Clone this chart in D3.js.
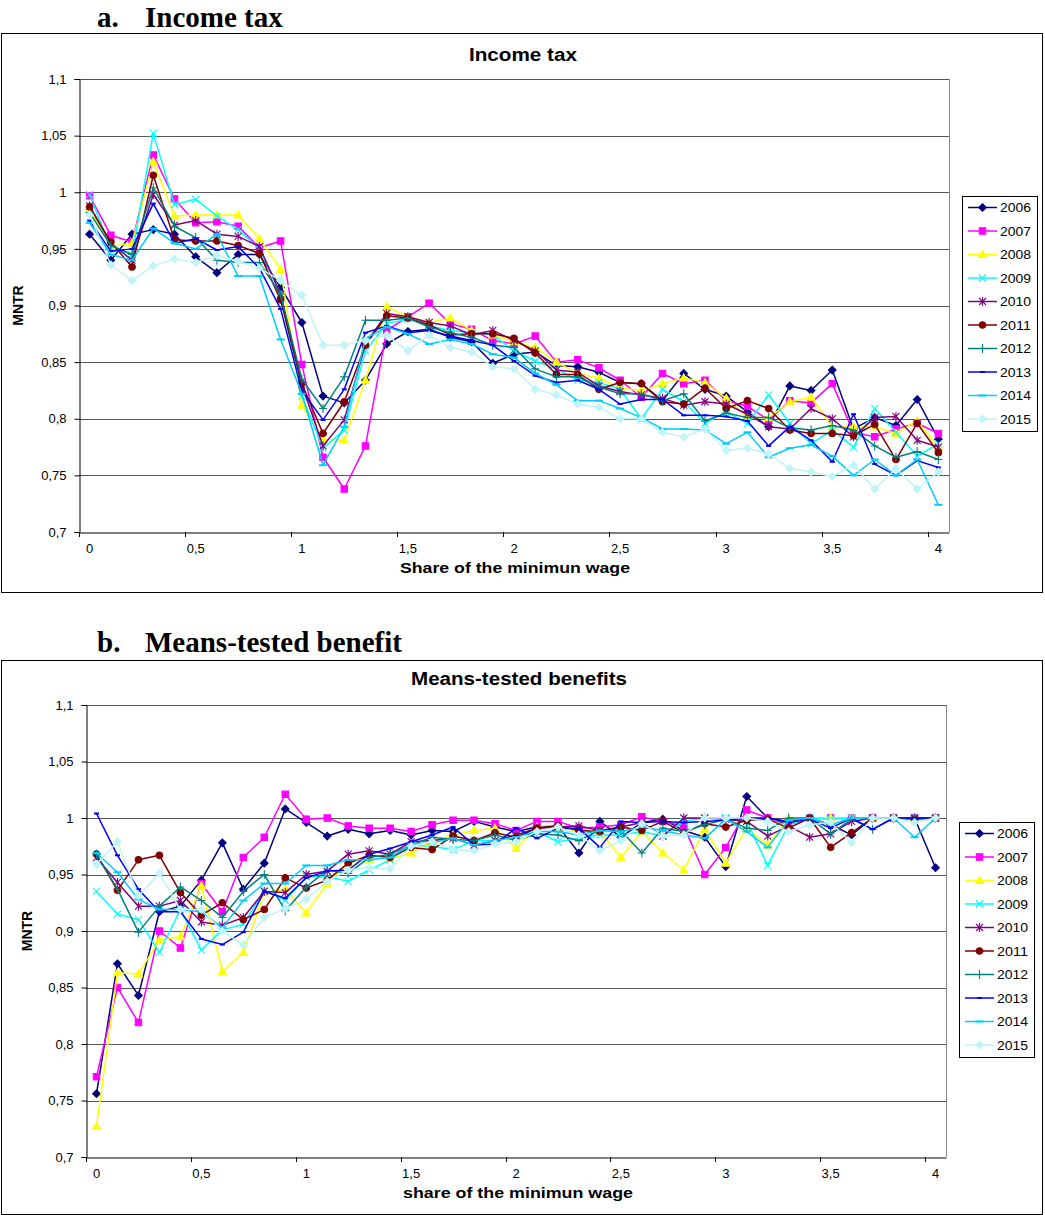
<!DOCTYPE html>
<html>
<head>
<meta charset="utf-8">
<script src="https://cdn.jsdelivr.net/npm/d3@7"></script>
<style>
  body { margin: 0; background: #fff; }
  svg { display: block; }
</style>
</head>
<body>
<svg id="chart" width="1045" height="1215"></svg>
<script>
// categories (share of the minimum wage) and ticks
var shares = [0, 0.1, 0.2, 0.3, 0.4, 0.5, 0.6, 0.7, 0.8, 0.9, 1, 1.1, 1.2, 1.3, 1.4, 1.5, 1.6, 1.7, 1.8, 1.9,
  2, 2.1, 2.2, 2.3, 2.4, 2.5, 2.6, 2.7, 2.8, 2.9, 3, 3.1, 3.2, 3.3, 3.4, 3.5, 3.6, 3.7, 3.8, 3.9, 4];
var xTickShares = [0, 0.5, 1, 1.5, 2, 2.5, 3, 3.5, 4];
var yTickValues = [0.7, 0.75, 0.8, 0.85, 0.9, 0.95, 1, 1.05, 1.1];
var years = ["2006", "2007", "2008", "2009", "2010", "2011", "2012", "2013", "2014", "2015"];

// a. Income tax
var it2006 = [0.963, 0.94, 0.963, 0.967, 0.963, 0.943, 0.929, 0.945, 0.945, 0.916, 0.885, 0.82, 0.814, 0.834, 0.866, 0.877, 0.879, 0.872, 0.868, 0.849, 0.857, 0.859, 0.847, 0.846, 0.841, 0.832, 0.831, 0.816, 0.84, 0.826, 0.82, 0.806, 0.793, 0.829, 0.825, 0.843, 0.791, 0.801, 0.794, 0.817, 0.782];
var it2007 = [0.997, 0.962, 0.956, 1.033, 0.994, 0.973, 0.974, 0.97, 0.951, 0.957, 0.848, 0.766, 0.738, 0.776, 0.878, 0.89, 0.902, 0.884, 0.879, 0.869, 0.866, 0.873, 0.85, 0.852, 0.845, 0.834, 0.819, 0.84, 0.831, 0.834, 0.816, 0.811, 0.799, 0.816, 0.814, 0.831, 0.788, 0.784, 0.791, 0.796, 0.787];
var it2008 = [0.985, 0.952, 0.955, 1.027, 0.979, 0.98, 0.98, 0.98, 0.959, 0.932, 0.812, 0.782, 0.781, 0.834, 0.899, 0.89, 0.885, 0.889, 0.878, 0.874, 0.868, 0.863, 0.85, 0.84, 0.836, 0.827, 0.825, 0.831, 0.836, 0.832, 0.818, 0.801, 0.801, 0.815, 0.819, 0.793, 0.793, 0.793, 0.787, 0.798, 0.775];
var it2009 = [0.998, 0.95, 0.945, 1.052, 0.989, 0.994, 0.979, 0.967, 0.95, 0.91, 0.82, 0.774, 0.79, 0.86, 0.884, 0.888, 0.882, 0.878, 0.876, 0.874, 0.86, 0.851, 0.844, 0.834, 0.832, 0.826, 0.8, 0.826, 0.815, 0.796, 0.806, 0.796, 0.821, 0.796, 0.778, 0.79, 0.775, 0.809, 0.788, 0.767, 0.778];
var it2010 = [0.988, 0.955, 0.94, 0.998, 0.971, 0.975, 0.963, 0.961, 0.952, 0.91, 0.83, 0.776, 0.799, 0.866, 0.893, 0.89, 0.885, 0.882, 0.874, 0.878, 0.869, 0.86, 0.843, 0.841, 0.829, 0.824, 0.821, 0.818, 0.812, 0.815, 0.813, 0.804, 0.793, 0.791, 0.809, 0.8, 0.784, 0.801, 0.802, 0.781, 0.775];
var it2011 = [0.987, 0.956, 0.934, 1.015, 0.958, 0.957, 0.957, 0.953, 0.946, 0.905, 0.831, 0.787, 0.815, 0.865, 0.891, 0.889, 0.883, 0.874, 0.875, 0.875, 0.871, 0.858, 0.839, 0.839, 0.826, 0.832, 0.831, 0.815, 0.813, 0.827, 0.809, 0.816, 0.809, 0.79, 0.787, 0.787, 0.785, 0.795, 0.764, 0.796, 0.77];
var it2012 = [0.982, 0.953, 0.945, 1.004, 0.97, 0.96, 0.94, 0.938, 0.938, 0.91, 0.835, 0.809, 0.837, 0.887, 0.887, 0.889, 0.881, 0.876, 0.872, 0.865, 0.863, 0.844, 0.837, 0.837, 0.828, 0.822, 0.822, 0.816, 0.822, 0.798, 0.805, 0.801, 0.801, 0.792, 0.79, 0.794, 0.79, 0.776, 0.766, 0.771, 0.764];
var it2013 = [0.975, 0.948, 0.95, 0.99, 0.955, 0.959, 0.949, 0.952, 0.933, 0.897, 0.825, 0.799, 0.826, 0.876, 0.882, 0.876, 0.878, 0.873, 0.869, 0.865, 0.851, 0.838, 0.832, 0.834, 0.826, 0.813, 0.817, 0.817, 0.803, 0.803, 0.802, 0.798, 0.776, 0.793, 0.781, 0.762, 0.804, 0.76, 0.75, 0.763, 0.757];
var it2014 = [0.973, 0.945, 0.94, 0.968, 0.955, 0.95, 0.963, 0.926, 0.926, 0.87, 0.822, 0.759, 0.793, 0.871, 0.881, 0.875, 0.866, 0.87, 0.866, 0.857, 0.854, 0.84, 0.83, 0.816, 0.816, 0.809, 0.801, 0.791, 0.791, 0.79, 0.778, 0.788, 0.766, 0.774, 0.777, 0.767, 0.75, 0.764, 0.75, 0.764, 0.724];
var it2015 = [0.98, 0.936, 0.922, 0.935, 0.941, 0.938, 0.944, 0.939, 0.933, 0.922, 0.909, 0.865, 0.865, 0.869, 0.874, 0.86, 0.874, 0.863, 0.859, 0.846, 0.844, 0.826, 0.821, 0.813, 0.81, 0.8, 0.8, 0.788, 0.784, 0.791, 0.772, 0.774, 0.769, 0.756, 0.753, 0.749, 0.759, 0.738, 0.756, 0.738, 0.753];

// b. Means-tested benefits
var mb2006 = [0.756, 0.871, 0.843, 0.917, 0.922, 0.945, 0.978, 0.937, 0.96, 1.008, 0.996, 0.984, 0.99, 0.986, 0.989, 0.985, 0.989, 0.988, 0.997, 0.992, 0.988, 0.992, 0.993, 0.969, 0.997, 0.983, 0.996, 0.999, 0.989, 0.983, 0.957, 1.019, 1.0, 0.997, 1.0, 0.994, 0.985, 1.0, 1.0, 1.0, 0.956];
var mb2007 = [0.771, 0.85, 0.819, 0.9, 0.885, 0.942, 0.917, 0.965, 0.983, 1.021, 0.999, 1.0, 0.993, 0.991, 0.991, 0.988, 0.994, 0.998, 0.998, 0.995, 0.989, 0.997, 0.997, 0.991, 0.992, 0.994, 1.001, 0.997, 0.993, 0.95, 0.974, 1.007, 1.0, 0.994, 1.0, 1.0, 1.0, 1.0, 1.0, 1.0, 1.0];
var mb2008 = [0.727, 0.863, 0.862, 0.892, 0.895, 0.94, 0.864, 0.881, 0.934, 0.937, 0.916, 0.942, 0.961, 0.963, 0.964, 0.969, 0.979, 0.985, 0.989, 0.991, 0.973, 0.992, 0.991, 0.988, 0.988, 0.965, 0.988, 0.969, 0.954, 0.99, 0.96, 0.991, 0.976, 1.0, 1.0, 1.0, 1.0, 1.0, 1.0, 1.0, 1.0];
var mb2009 = [0.935, 0.915, 0.91, 0.881, 0.919, 0.883, 0.901, 0.906, 0.936, 0.927, 0.948, 0.948, 0.944, 0.954, 0.963, 0.976, 0.975, 0.972, 0.98, 0.98, 0.985, 0.988, 0.979, 0.982, 0.985, 0.985, 0.988, 0.984, 0.997, 1.0, 1.0, 0.997, 0.958, 0.994, 1.0, 0.999, 1.0, 1.0, 1.0, 1.0, 1.0];
var mb2010 = [0.965, 0.943, 0.922, 0.922, 0.927, 0.908, 0.905, 0.912, 0.935, 0.934, 0.95, 0.953, 0.968, 0.971, 0.968, 0.979, 0.98, 0.982, 0.976, 0.98, 0.985, 0.991, 0.992, 0.993, 0.989, 0.992, 0.996, 0.984, 1.0, 1.0, 0.999, 0.997, 0.984, 0.993, 0.983, 0.986, 0.997, 1.0, 1.0, 1.0, 1.0];
var mb2011 = [0.968, 0.936, 0.963, 0.967, 0.934, 0.914, 0.925, 0.91, 0.919, 0.947, 0.938, 0.945, 0.96, 0.967, 0.965, 0.974, 0.972, 0.984, 0.98, 0.987, 0.983, 0.991, 0.993, 0.989, 0.988, 0.992, 0.989, 0.997, 0.987, 0.995, 0.992, 0.998, 0.999, 0.991, 1.0, 0.974, 0.987, 1.0, 1.0, 0.999, 1.0];
var mb2012 = [0.968, 0.937, 0.899, 0.922, 0.939, 0.927, 0.912, 0.935, 0.95, 0.918, 0.939, 0.954, 0.951, 0.965, 0.968, 0.976, 0.983, 0.981, 0.98, 0.985, 0.98, 0.986, 0.985, 0.98, 0.989, 0.989, 0.969, 0.991, 0.988, 0.994, 0.999, 0.991, 0.989, 1.0, 1.0, 0.986, 0.999, 0.99, 1.0, 1.0, 1.0];
var mb2013 = [1.004, 0.967, 0.937, 0.917, 0.917, 0.893, 0.888, 0.899, 0.935, 0.929, 0.947, 0.953, 0.954, 0.968, 0.973, 0.979, 0.985, 0.992, 0.976, 0.977, 0.991, 0.982, 0.991, 0.991, 0.974, 0.997, 0.996, 0.997, 0.996, 0.997, 0.998, 1.0, 1.0, 0.996, 0.999, 0.991, 1.0, 0.99, 1.0, 1.0, 1.0];
var mb2014 = [0.969, 0.952, 0.928, 0.919, 0.919, 0.917, 0.903, 0.927, 0.942, 0.942, 0.958, 0.958, 0.963, 0.963, 0.965, 0.977, 0.978, 0.982, 0.976, 0.98, 0.983, 0.988, 0.988, 0.985, 0.989, 0.988, 0.992, 0.989, 0.985, 0.982, 0.999, 0.988, 0.974, 0.998, 1.0, 0.994, 1.0, 1.0, 1.0, 0.983, 1.0];
var mb2015 = [0.959, 0.979, 0.931, 0.951, 0.919, 0.919, 0.9, 0.888, 0.912, 0.92, 0.928, 0.944, 0.954, 0.956, 0.955, 0.975, 0.979, 0.972, 0.971, 0.977, 0.979, 0.988, 0.992, 0.985, 0.971, 0.98, 0.995, 0.984, 0.985, 1.0, 1.0, 1.0, 0.997, 0.988, 0.994, 0.996, 0.978, 1.0, 1.0, 0.996, 1.0];

var incomeTax = [it2006, it2007, it2008, it2009, it2010, it2011, it2012, it2013, it2014, it2015];
var meansTested = [mb2006, mb2007, mb2008, mb2009, mb2010, mb2011, mb2012, mb2013, mb2014, mb2015];

// Excel-like series styles
var colors = ["#000080", "#ff00ff", "#ffff00", "#00ffff", "#800080", "#800000", "#008080", "#0000ff", "#00ccff", "#bff4f8"];
var markers = ["diamond", "square", "triangle", "x", "star", "circle", "plus", "dash", "longdash", "diamond"];

var svg = d3.select("#chart");
var font = "'Liberation Sans', Arial, sans-serif";

function fmt(v) { return String(v).replace(".", ","); }

function markerPath(type) {
  switch (type) {
    case "diamond": return "M0,-3.8L3.8,0L0,3.8L-3.8,0Z";
    case "square": return "M-3.2,-3.2H3.2V3.2H-3.2Z";
    case "triangle": return "M0,-4L4,3L-4,3Z";
    case "x": return "M-3.5,-3.5L3.5,3.5M-3.5,3.5L3.5,-3.5";
    case "star": return "M-3.5,-3.5L3.5,3.5M-3.5,3.5L3.5,-3.5M0,-4.5L0,4.5";
    case "circle": return "M3.3,0A3.3,3.3 0 1 1 -3.3,0A3.3,3.3 0 1 1 3.3,0Z";
    case "plus": return "M-4,0L4,0M0,-4.5L0,4.5";
    case "dash": return "M-2.5,0L2.5,0";
    case "longdash": return "M-4,0L4,0";
  }
}
function isOpen(type) {
  return type === "x" || type === "star" || type === "plus" || type === "dash" || type === "longdash";
}

function drawMarker(sel, type, color) {
  sel.attr("d", markerPath(type))
    .attr("fill", isOpen(type) ? "none" : color)
    .attr("stroke", color)
    .attr("stroke-width", (type === "dash" || type === "longdash") ? 2 : 1.1);
}

function drawPanel(p) {
  var g = svg.append("g");

  // outer chart box
  g.append("rect")
    .attr("x", 1.5).attr("y", p.boxTop + 0.5)
    .attr("width", 1041).attr("height", p.boxBottom - p.boxTop)
    .attr("fill", "#fff").attr("stroke", "#000").attr("stroke-width", 1);

  // section heading
  g.append("text").attr("x", 97).attr("y", p.headY)
    .attr("font-family", "'Liberation Serif', 'Times New Roman', serif")
    .attr("font-weight", "bold").attr("font-size", "29px")
    .text(p.letter);
  g.append("text").attr("x", 145).attr("y", p.headY)
    .attr("font-family", "'Liberation Serif', 'Times New Roman', serif")
    .attr("font-weight", "bold").attr("font-size", "29px")
    .text(p.heading);

  // chart title
  g.append("text").attr("x", p.titleX).attr("y", p.titleY)
    .attr("text-anchor", "middle")
    .attr("font-family", font).attr("font-weight", "bold").attr("font-size", "18px")
    .attr("textLength", p.titleLen).attr("lengthAdjust", "spacingAndGlyphs")
    .text(p.title);

  var x = d3.scaleBand().domain(shares).range([p.left, p.right]);
  var xc = function(s) { return x(s) + x.bandwidth() / 2; };
  var y = d3.scaleLinear().domain([0.7, 1.1]).range([p.bottom, p.top]);

  // gridlines
  g.selectAll(".grid").data(yTickValues.slice(1)).enter().append("line")
    .attr("x1", p.left).attr("x2", p.right)
    .attr("y1", d => Math.round(y(d)) + 0.5).attr("y2", d => Math.round(y(d)) + 0.5)
    .attr("stroke", "#555").attr("stroke-width", 1);

  // plot area right edge
  g.append("line")
    .attr("x1", p.right + 0.5).attr("x2", p.right + 0.5)
    .attr("y1", p.top).attr("y2", p.bottom)
    .attr("stroke", "#888");

  // y axis
  var yAxis = d3.axisLeft(y).tickValues(yTickValues).tickSize(5).tickPadding(8).tickFormat(fmt);
  var ya = g.append("g").attr("transform", `translate(${p.left + 0.5},0)`).call(yAxis);
  ya.select(".domain").attr("stroke", "#000");
  ya.selectAll(".tick line").attr("stroke", "#000");
  ya.selectAll("text").attr("font-family", font).attr("font-size", "13px").attr("fill", "#000");

  // x axis: labels centred on categories, tick marks at category edges
  var xAxis = d3.axisBottom(x).tickValues(xTickShares).tickSize(0).tickPadding(11).tickFormat(fmt);
  var xa = g.append("g").attr("transform", `translate(0,${p.bottom + 0.5})`).call(xAxis);
  xa.select(".domain").attr("stroke", "#000");
  xa.selectAll("text").attr("font-family", font).attr("font-size", "13px").attr("fill", "#000");
  g.selectAll(".xtick").data(xTickShares).enter().append("line")
    .attr("x1", d => Math.round(x(d)) + 0.5).attr("x2", d => Math.round(x(d)) + 0.5)
    .attr("y1", p.bottom).attr("y2", p.bottom + 5)
    .attr("stroke", "#000");

  // axis titles
  g.append("text").attr("x", p.xTitleX).attr("y", p.xTitleY)
    .attr("text-anchor", "middle")
    .attr("font-family", font).attr("font-weight", "bold").attr("font-size", "15px")
    .attr("textLength", 230).attr("lengthAdjust", "spacingAndGlyphs")
    .text(p.xTitle);
  g.append("text")
    .attr("transform", `translate(${p.yTitleX},${(p.top + p.bottom) / 2}) rotate(-90)`)
    .attr("text-anchor", "middle")
    .attr("font-family", font).attr("font-weight", "bold").attr("font-size", "14px")
    .text("MNTR");

  // series
  var line = d3.line().x((d, i) => xc(shares[i])).y(d => y(d));
  p.series.forEach(function(vals, k) {
    var sg = g.append("g");
    sg.append("path").datum(vals)
      .attr("d", line)
      .attr("fill", "none")
      .attr("stroke", colors[k])
      .attr("stroke-width", 1.5)
      .attr("stroke-linejoin", "round");
    sg.selectAll("path.m").data(vals).enter().append("path")
      .attr("class", "m")
      .attr("transform", (d, i) => `translate(${xc(shares[i])},${y(d)})`)
      .call(drawMarker, markers[k], colors[k]);
  });

  // legend
  var lg = g.append("g");
  lg.append("rect")
    .attr("x", p.legX + 0.5).attr("y", p.legY + 0.5)
    .attr("width", 75).attr("height", 235)
    .attr("fill", "#fff").attr("stroke", "#000");
  years.forEach(function(yr, k) {
    var ly = p.legY + 11.5 + k * 23.5;
    lg.append("line")
      .attr("x1", p.legX + 6).attr("x2", p.legX + 35)
      .attr("y1", ly).attr("y2", ly)
      .attr("stroke", colors[k]).attr("stroke-width", 1.5);
    lg.append("path")
      .attr("transform", `translate(${p.legX + 20.5},${ly})`)
      .call(drawMarker, markers[k], colors[k]);
    lg.append("text")
      .attr("x", p.legX + 38).attr("y", ly + 4.5)
      .attr("font-family", font).attr("font-size", "13px")
      .attr("textLength", 31).attr("lengthAdjust", "spacingAndGlyphs")
      .text(yr);
  });
}

drawPanel({
  boxTop: 33, boxBottom: 592,
  headY: 27, letter: "a.", heading: "Income tax",
  title: "Income tax", titleX: 523, titleY: 61, titleLen: 108,
  left: 79, right: 949, top: 79, bottom: 532,
  xTitle: "Share of the minimun  wage", xTitleX: 515, xTitleY: 573,
  yTitleX: 23,
  legX: 962, legY: 196,
  series: incomeTax
});

drawPanel({
  boxTop: 660, boxBottom: 1214,
  headY: 652, letter: "b.", heading: "Means-tested benefit",
  title: "Means-tested benefits", titleX: 519, titleY: 685, titleLen: 216,
  left: 86, right: 946, top: 705, bottom: 1157,
  xTitle: "share of the minimun  wage", xTitleX: 518, xTitleY: 1198,
  yTitleX: 32,
  legX: 959, legY: 822,
  series: meansTested
});
</script>
</body>
</html>
